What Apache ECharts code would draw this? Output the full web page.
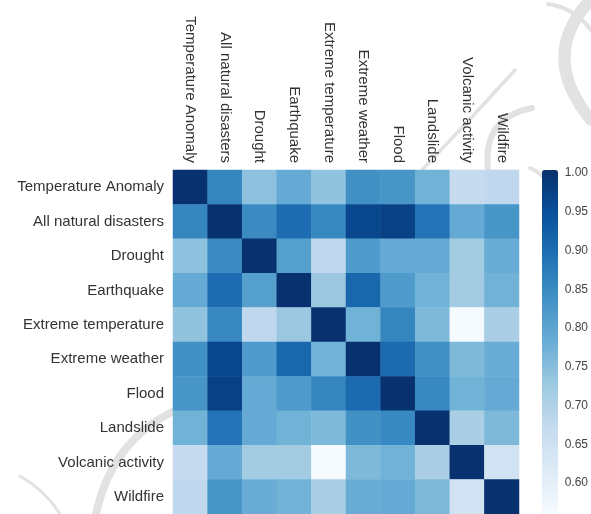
<!DOCTYPE html>
<html>
<head>
<meta charset="utf-8">
<script src="https://cdn.jsdelivr.net/npm/echarts@6/dist/echarts.min.js"></script>
<style>html,body{margin:0;padding:0;background:#fff}#c{width:591px;height:514px}</style>
</head>
<body>
<div id="c"></div>
<script>
var categories = ['Temperature Anomaly','All natural disasters','Drought','Earthquake','Extreme temperature','Extreme weather','Flood','Landslide','Volcanic activity','Wildfire'];
var rowTemperatureAnomaly = [1.00, 0.86, 0.745, 0.79, 0.74, 0.84, 0.83, 0.775, 0.67, 0.68];
var rowAllNatural        = [0.86, 1.00, 0.85, 0.90, 0.855, 0.965, 0.975, 0.89, 0.79, 0.83];
var rowDrought           = [0.745, 0.85, 1.00, 0.81, 0.68, 0.82, 0.79, 0.79, 0.72, 0.785];
var rowEarthquake        = [0.79, 0.90, 0.81, 1.00, 0.73, 0.91, 0.82, 0.775, 0.72, 0.775];
var rowExtremeTemp       = [0.74, 0.855, 0.68, 0.73, 1.00, 0.775, 0.86, 0.76, 0.565, 0.71];
var rowExtremeWeather    = [0.84, 0.965, 0.82, 0.91, 0.775, 1.00, 0.905, 0.84, 0.76, 0.785];
var rowFlood             = [0.83, 0.975, 0.79, 0.82, 0.86, 0.905, 1.00, 0.855, 0.775, 0.79];
var rowLandslide         = [0.775, 0.89, 0.79, 0.775, 0.76, 0.84, 0.855, 1.00, 0.71, 0.76];
var rowVolcanic          = [0.67, 0.79, 0.72, 0.72, 0.565, 0.76, 0.775, 0.71, 1.00, 0.645];
var rowWildfire          = [0.68, 0.83, 0.785, 0.775, 0.71, 0.785, 0.79, 0.76, 0.645, 1.00];
var colorbarTicks = [0.60, 0.65, 0.70, 0.75, 0.80, 0.85, 0.90, 0.95, 1.00];
var colorMin = 0.56, colorMax = 1.004;

var rows = [rowTemperatureAnomaly,rowAllNatural,rowDrought,rowEarthquake,rowExtremeTemp,rowExtremeWeather,rowFlood,rowLandslide,rowVolcanic,rowWildfire];
var data = [];
rows.forEach(function(r, i){ r.forEach(function(v, j){ data.push([j, i, v]); }); });

var chart = echarts.init(document.getElementById('c'), null, {renderer:'canvas'});
var font = 'Liberation Sans, Arial, sans-serif';
function arc(x1, y1, cx, cy, x2, y2, w){
  return {type:'bezierCurve', silent:true, z:-10,
    shape:{x1:x1, y1:y1, cpx1:cx, cpy1:cy, x2:x2, y2:y2},
    style:{stroke:'#e2e2e2', fill:null, lineWidth:w, lineCap:'round'}};
}
chart.setOption({
  backgroundColor: '#fff',
  animation: false,
  graphic: [
    arc(587, 4, 540, 58, 591, 120, 12),
    arc(548, 4, 575, 8, 591, 30, 4),
    arc(515, 70, 470, 120, 422, 170, 3.5),
    arc(532, 108, 482, 118, 488, 170, 6),
    arc(530, 168, 540, 172, 548, 182, 4),
    arc(176, 410, 112, 440, 96, 514, 8),
    arc(20, 476, 45, 490, 60, 514, 3)
  ],
  grid: [
    {left: 173, top: 170, width: 346, height: 345},
    {left: 542, top: 170, width: 16, height: 345}
  ],
  xAxis: [
    {type:'category', data: categories, position:'top', gridIndex:0,
     axisLine:{show:false}, axisTick:{show:false}, splitLine:{show:false},
     axisLabel:{rotate:90, interval:0, margin:7, color:'#333', fontSize:15, fontFamily:font}},
    {type:'value', gridIndex:1, show:false, min:0, max:1}
  ],
  yAxis: [
    {type:'category', data: categories, inverse:true, gridIndex:0,
     axisLine:{show:false}, axisTick:{show:false}, splitLine:{show:false},
     axisLabel:{interval:0, margin:9, color:'#333', fontSize:15, fontFamily:font}},
    {type:'value', gridIndex:1, position:'right', min:colorMin, max:colorMax,
     axisLine:{show:false}, axisTick:{show:false}, splitLine:{show:false},
     axisLabel:{customValues: colorbarTicks, margin:9, color:'#444', fontSize:12, fontFamily:font,
       formatter:function(v){return v.toFixed(2);}}}
  ],
  visualMap: {
    type:'continuous', min:colorMin, max:colorMax, seriesIndex:0,
    calculable:false, orient:'vertical', left:542, top:170, itemWidth:16, itemHeight:345,
    padding:0, text:null, showLabel:false, hoverLink:false,
    inRange:{color:['#f7fbff','#deebf7','#c6dbef','#9ecae1','#6baed6','#4292c6','#2171b5','#08519c','#08306b']}
  },
  series: [{
    type:'heatmap', xAxisIndex:0, yAxisIndex:0, data:data,
    itemStyle:{borderWidth:0}, emphasis:{disabled:true}
  }]
});
</script>
</body>
</html>
